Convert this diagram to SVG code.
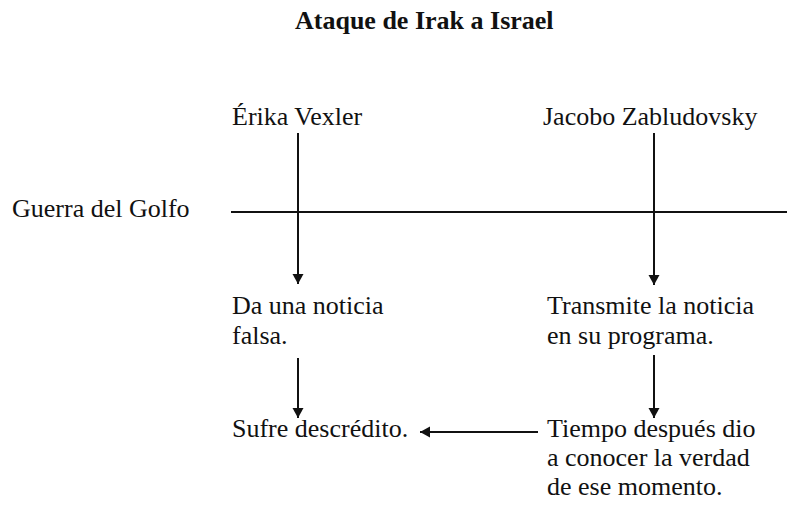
<svg xmlns="http://www.w3.org/2000/svg" width="787" height="509" viewBox="0 0 787 509">
<style>
text{font-family:"Liberation Serif","Times New Roman",serif;font-size:26px;fill:#111;}
.title{font-weight:bold;}
.ln{stroke:#111;stroke-width:2;fill:none;}
</style>
<defs>
<marker id="ah" markerUnits="userSpaceOnUse" markerWidth="12" markerHeight="12" viewBox="0 0 12 12" refX="10" refY="6" orient="auto">
<path d="M0,0.5 L10,6 L0,11.5 Z" fill="#111"/>
</marker>
</defs>
<rect width="787" height="509" fill="#fff"/>
<g id="title"><text class="title" x="295" y="29">Ataque de Irak a Israel</text></g>
<g id="erika"><text x="232" y="125">Érika Vexler</text></g>
<g id="jacobo"><text x="543" y="125">Jacobo Zabludovsky</text></g>
<g id="guerra"><text x="12" y="217">Guerra del Golfo</text></g>
<g id="da-noticia"><text x="232" y="314">Da una noticia</text><text x="232" y="344">falsa.</text></g>
<g id="transmite"><text x="547" y="314">Transmite la noticia</text><text x="547" y="344">en su programa.</text></g>
<g id="sufre"><text x="232" y="437">Sufre descrédito.</text></g>
<g id="tiempo"><text x="547" y="437">Tiempo después dio</text><text x="547" y="466">a conocer la verdad</text><text x="547" y="495">de ese momento.</text></g>
<g id="connectors">
<line class="ln" x1="231" y1="212" x2="787" y2="212"/>
<line class="ln" x1="298" y1="133" x2="298" y2="284" marker-end="url(#ah)"/>
<line class="ln" x1="654" y1="133" x2="654" y2="285" marker-end="url(#ah)"/>
<line class="ln" x1="298" y1="358" x2="298" y2="418" marker-end="url(#ah)"/>
<line class="ln" x1="654" y1="355" x2="654" y2="418" marker-end="url(#ah)"/>
<line class="ln" x1="538" y1="432" x2="420" y2="432" marker-end="url(#ah)"/>
</g>
</svg>
